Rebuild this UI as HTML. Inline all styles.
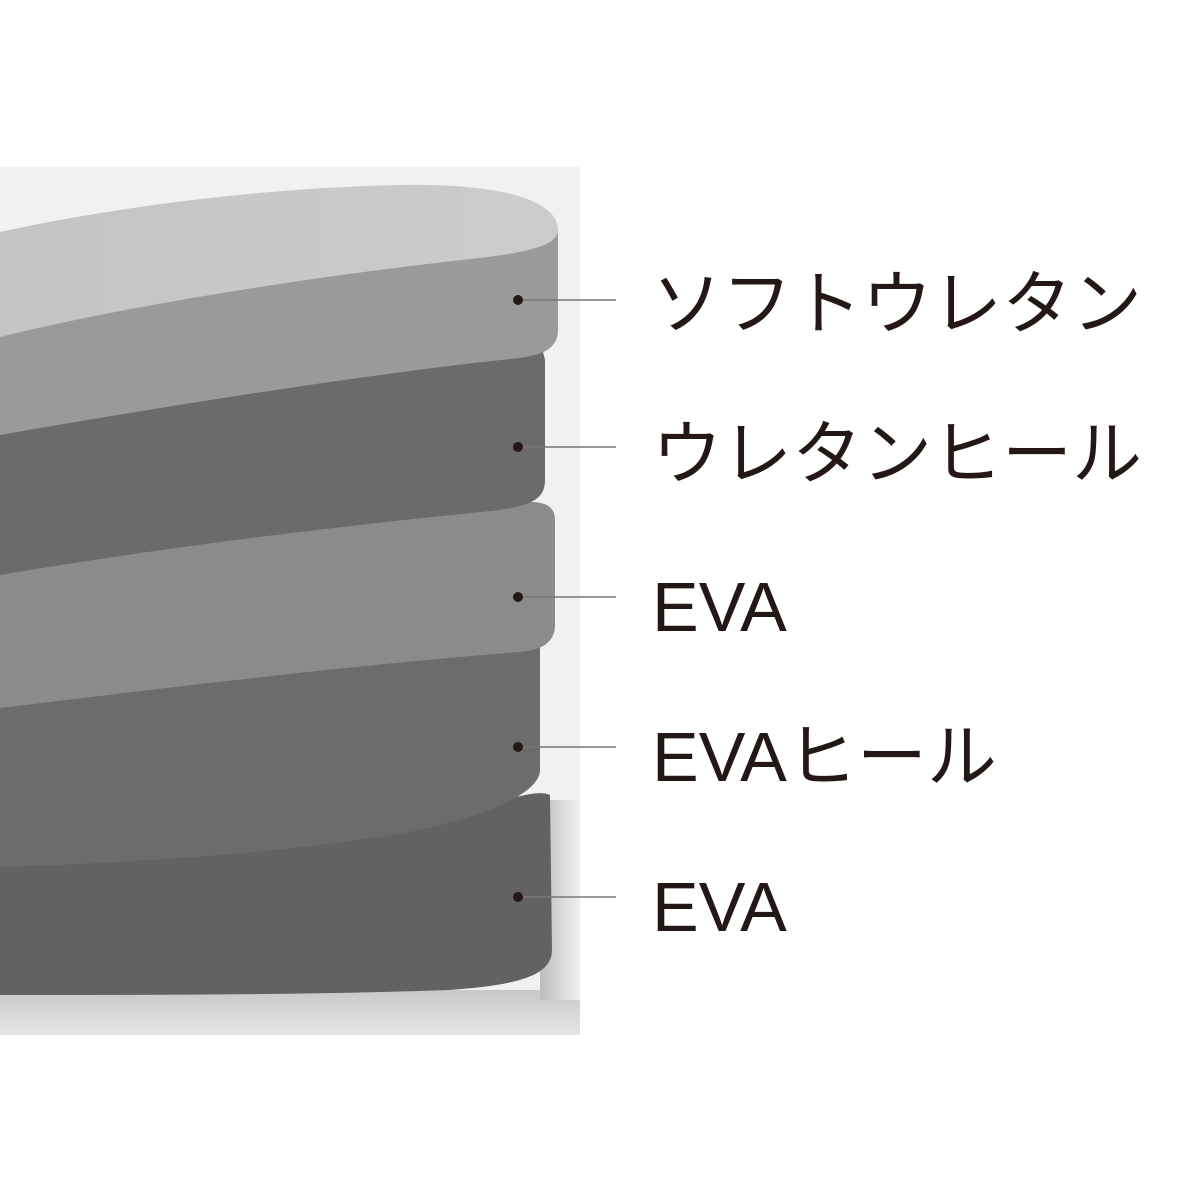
<!DOCTYPE html>
<html><head><meta charset="utf-8"><style>
html,body{margin:0;padding:0;background:#fff;width:1200px;height:1200px;overflow:hidden}
svg{display:block}
text{font-family:"Liberation Sans","Noto Sans CJK JP",sans-serif;font-size:70px;fill:#231815}
</style></head><body>
<svg width="1200" height="1200" viewBox="0 0 1200 1200">
<defs>
<linearGradient id="sh" x1="0" y1="0" x2="1" y2="0">
<stop offset="0" stop-color="#bdbdbd"/><stop offset="1" stop-color="#f1f1f1"/>
</linearGradient>
<linearGradient id="bs" x1="0" y1="0" x2="0" y2="1">
<stop offset="0" stop-color="#c8c8c8"/><stop offset="1" stop-color="#e6e6e6"/>
</linearGradient>
<linearGradient id="top" x1="0" y1="0" x2="1" y2="0">
<stop offset="0" stop-color="#c4c4c4"/><stop offset="1" stop-color="#cccccc"/>
</linearGradient>
</defs>
<rect x="0" y="167" width="580" height="868" fill="#f1f1f1"/>
<rect x="0" y="990" width="580" height="45" fill="url(#bs)"/>
<rect x="540" y="800" width="40" height="200" fill="url(#sh)"/>
<path d="M0,865 C200,848 380,832 470,810 C520,795 540,790 550,795 L552,950 C552,975 520,985 450,990 C300,995 150,995 0,995 Z" fill="#626262"/>
<path d="M0,700 L540,640 L540,770 C540,790 500,812 420,830 C300,852 150,862 0,867 Z" fill="#6c6c6c"/>
<path d="M0,560 C200,530 400,505 530,502 C550,502 555,510 555,520 L555,625 C555,640 545,650 520,652 C350,665 150,690 0,708 Z" fill="#8b8b8b"/>
<path d="M0,420 L540,340 L545,360 L545,480 C545,500 530,505 500,510 C300,530 150,550 0,575 Z" fill="#6b6b6b"/>
<path d="M0,330 C150,300 350,270 480,255 C530,250 558,240 558,230 L558,330 C558,350 540,355 520,358 C400,370 200,400 0,435 Z" fill="#9a9a9a"/>
<path d="M0,232 C100,210 250,188 400,185 C500,183 558,200 558,230 C558,245 530,252 480,258 C350,272 150,300 0,337 Z" fill="url(#top)"/>
<g stroke="#777" stroke-width="1.5">
<line x1="520" y1="300" x2="616" y2="300"/>
<line x1="520" y1="447" x2="616" y2="447"/>
<line x1="520" y1="597" x2="616" y2="597"/>
<line x1="520" y1="747" x2="616" y2="747"/>
<line x1="520" y1="897" x2="616" y2="897"/>
</g>
<g fill="#231815">
<circle cx="518" cy="300" r="5"/><circle cx="518" cy="447" r="5"/><circle cx="518" cy="597" r="5"/><circle cx="518" cy="747" r="5"/><circle cx="518" cy="897" r="5"/>
</g>
<text x="652" y="328">ソフトウレタン</text>
<text x="652" y="478">ウレタンヒール</text>
<text x="652" y="631">EVA</text>
<text x="652" y="781">EVAヒール</text>
<text x="652" y="931">EVA</text>
</svg>
</body></html>
